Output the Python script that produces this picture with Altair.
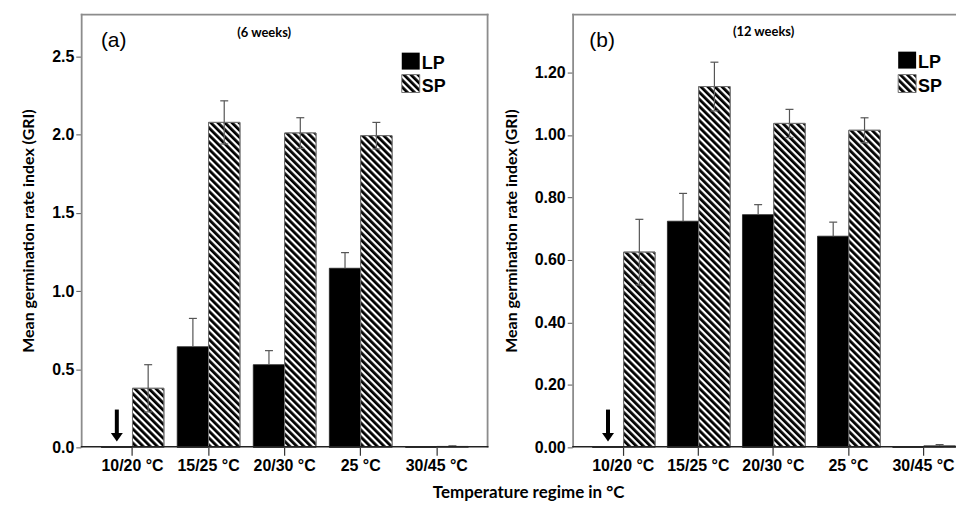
import base64
import altair as alt
import pandas as pd

categories = ["10/20 °C", "15/25 °C", "20/30 °C", "25 °C", "30/45 °C"]
groups = ["LP", "SP"]

# panel (a) 6 weeks
a_lp = [0.0, 0.644, 0.529, 1.146, 0.0]
a_lp_err = [0.0, 0.181, 0.090, 0.100, 0.0]
a_sp = [0.378, 2.079, 2.011, 1.994, 0.006]
a_sp_err = [0.151, 0.138, 0.098, 0.085, 0.004]
a_ticks = [0.0, 0.5, 1.0, 1.5, 2.0, 2.5]

# panel (b) 12 weeks
b_lp = [0.0, 0.724, 0.745, 0.676, 0.0]
b_lp_err = [0.0, 0.089, 0.032, 0.045, 0.0]
b_sp = [0.625, 1.155, 1.037, 1.015, 0.005]
b_sp_err = [0.105, 0.078, 0.045, 0.040, 0.004]
b_ticks = [0.0, 0.2, 0.4, 0.6, 0.8, 1.0, 1.2]

# arrows (no germination of LP at 10/20 °C): top, neck, tip
arrow_cat = "10/20 °C"
a_arrow = [0.242, 0.089, 0.038]
b_arrow = [0.121, 0.045, 0.019]

YTITLE = "Mean germination rate index (GRI)"
XTITLE = "Temperature regime in °C"

HATCH_SVG = (
    "<svg xmlns='http://www.w3.org/2000/svg' width='100%' height='100%'>"
    "<defs><pattern id='h' width='5' height='5' patternUnits='userSpaceOnUse' "
    "patternTransform='rotate(-45)'>"
    "<rect width='5' height='5' fill='white'/>"
    "<rect width='2.8' height='5' fill='black'/>"
    "</pattern></defs>"
    "<rect width='100%' height='100%' fill='url(#h)'/></svg>"
)
HATCH = "data:image/svg+xml;base64," + base64.b64encode(HATCH_SVG.encode()).decode()

H = 435
ONE = pd.DataFrame({"k": [0]})
FRAME = "#8c8c8c"


def panel(lp, lp_err, sp, sp_err, ymax, ticks, fmt, tag, weeks, arrow,
          W, pad_outer, align, right_edge, tag_pos, weeks_pos, leg):
    rows = []
    for c, v, e in zip(categories, lp, lp_err):
        rows.append(dict(cat=c, grp="LP", val=v, err=e))
    for c, v, e in zip(categories, sp, sp_err):
        rows.append(dict(cat=c, grp="SP", val=v, err=e))
    df = pd.DataFrame(rows)
    df["lo"] = df["val"] - df["err"]
    df["hi"] = df["val"] + df["err"]
    df["zero"] = 0.0

    xs = alt.Scale(domain=categories, paddingInner=0.176, paddingOuter=pad_outer, align=align)
    ys = alt.Scale(domain=[0, ymax], nice=False, zero=True)
    X = alt.X("cat:N", scale=xs, sort=categories, title=None,
              axis=alt.Axis(labelAngle=0, labelFont="Liberation Sans",
                            labelFontWeight="bold", labelFontSize=16,
                            labelColor="black", tickColor="#333", tickSize=8,
                            tickWidth=1.2, domain=False, labelPadding=2))
    XO = alt.XOffset("grp:N", sort=groups,
                     scale=alt.Scale(domain=groups, paddingInner=0, paddingOuter=0))
    Y = alt.Y("val:Q", scale=ys, stack=None, title=YTITLE,
              axis=alt.Axis(values=ticks, format=fmt, domain=False, grid=False,
                            tickColor="#555", tickSize=5, labelPadding=2,
                            labelFont="Liberation Sans", labelFontWeight="bold",
                            labelFontSize=16, labelColor="black",
                            titleFont="Lato", titleFontWeight="bold",
                            titleFontSize=16, titleColor="black", titlePadding=15))

    base = alt.Chart(df)
    one = alt.Chart(ONE)
    frame_top = one.mark_rule(color=FRAME, strokeWidth=1.8).encode(
        x=alt.value(0), x2=alt.value(W), y=alt.value(0.9))
    frame_left = one.mark_rule(color=FRAME, strokeWidth=1.8).encode(
        x=alt.value(0.9), y=alt.value(0), y2=alt.value(H))
    frames = [frame_top, frame_left]
    if right_edge:
        frames.append(one.mark_rule(color=FRAME, strokeWidth=1.8).encode(
            x=alt.value(W - 0.9), y=alt.value(0), y2=alt.value(H)))
    bars = base.mark_bar(stroke="#222", strokeWidth=0.8).encode(
        x=X, xOffset=XO, y=Y,
        color=alt.Color("grp:N", scale=alt.Scale(domain=groups, range=["#000000", "#ffffff"]),
                        legend=None))
    sp_only = base.transform_filter("datum.grp == 'SP'")
    hatch = sp_only.mark_image(aspect=False).encode(
        x=X, xOffset=XO, y=alt.Y("val:Q", scale=ys), y2="zero:Q", url=alt.value(HATCH))
    outline = sp_only.mark_bar(fillOpacity=0, stroke="#707070", strokeWidth=1).encode(
        x=X, xOffset=XO, y=alt.Y("val:Q", scale=ys, stack=None))
    errs = base.transform_filter("datum.err > 0")
    sp_errs = base.transform_filter("datum.err > 0 && datum.grp == 'SP'")
    err_up = errs.mark_rule(color="#555", strokeWidth=1.2).encode(
        x=X, xOffset=XO, y=alt.Y("val:Q", scale=ys), y2="hi:Q")
    err_dn = sp_errs.mark_rule(color="#666", strokeWidth=1.2).encode(
        x=X, xOffset=XO, y=alt.Y("lo:Q", scale=ys), y2="val:Q")
    cap_hi = errs.mark_point(shape="stroke", size=64, strokeWidth=1.2, color="#555",
                             opacity=1).encode(x=X, xOffset=XO, y=alt.Y("hi:Q", scale=ys))
    cap_lo = sp_errs.mark_point(shape="stroke", size=64, strokeWidth=1.2, color="#666",
                                opacity=1).encode(x=X, xOffset=XO, y=alt.Y("lo:Q", scale=ys))
    bottom = one.mark_rule(color="#222", strokeWidth=1.5).encode(
        x=alt.value(0), x2=alt.value(W), y=alt.value(H - 0.75))

    adf = pd.DataFrame({"cat": [arrow_cat], "grp": ["LP"], "top": [arrow[0]],
                        "neck": [arrow[1]], "tip": [arrow[2]]})
    ar = alt.Chart(adf)
    shaft = ar.mark_rule(color="black", strokeWidth=4).encode(
        x=X, xOffset=XO, y=alt.Y("top:Q", scale=ys), y2="neck:Q")
    head = ar.mark_point(shape="M-1,-1.4 L1,-1.4 L0,0 Z", size=144, filled=True,
                         color="black", opacity=1, strokeWidth=0).encode(
        x=X, xOffset=XO, y=alt.Y("tip:Q", scale=ys))

    t_tag = one.mark_text(font="Liberation Sans", fontSize=21, color="black").encode(
        x=alt.value(tag_pos[0]), y=alt.value(tag_pos[1]), text=alt.value(tag))
    t_weeks = one.mark_text(font="Lato", fontWeight="bold", fontSize=13,
                            color="black").encode(
        x=alt.value(weeks_pos[0]), y=alt.value(weeks_pos[1]), text=alt.value(weeks))
    lx, ly1, ly2 = leg
    sq_lp = one.mark_rect(color="black").encode(
        x=alt.value(lx), x2=alt.value(lx + 18), y=alt.value(ly1), y2=alt.value(ly1 + 17))
    sq_sp = one.mark_image(aspect=False).encode(
        x=alt.value(lx), x2=alt.value(lx + 18), y=alt.value(ly2), y2=alt.value(ly2 + 18),
        url=alt.value(HATCH))
    sq_sp_o = one.mark_rect(fillOpacity=0, stroke="#707070", strokeWidth=1).encode(
        x=alt.value(lx), x2=alt.value(lx + 18), y=alt.value(ly2), y2=alt.value(ly2 + 18))
    t_lp = one.mark_text(font="Liberation Sans", fontWeight="bold", fontSize=18,
                         align="left", baseline="alphabetic", color="black").encode(
        x=alt.value(lx + 20), y=alt.value(ly1 + 16), text=alt.value("LP"))
    t_sp = one.mark_text(font="Liberation Sans", fontWeight="bold", fontSize=18,
                         align="left", baseline="alphabetic", color="black").encode(
        x=alt.value(lx + 20), y=alt.value(ly2 + 17), text=alt.value("SP"))

    return alt.layer(*frames, bars, hatch, outline, err_dn, cap_lo, err_up, cap_hi, bottom,
                     shaft, head, t_tag, t_weeks, sq_lp, sq_sp, sq_sp_o, t_lp, t_sp
                     ).properties(width=W, height=H)


pa = panel(a_lp, a_lp_err, a_sp, a_sp_err, 2.774, a_ticks, ".1f", "(a)", "(6 weeks)",
           a_arrow, 409, 0.268, 0.5, True, (33, 27), (184, 19), (322, 39, 61))
pb = panel(b_lp, b_lp_err, b_sp, b_sp_err, 1.388, b_ticks, ".2f", "(b)", "(12 weeks)",
           b_arrow, 385, 0.1445, 0.928, False, (30, 27), (192, 18), (327, 38, 61))

chart = alt.hconcat(pa, pb, spacing=13).properties(
    padding={"left": 12, "top": 4, "right": 0, "bottom": 0},
    title=alt.TitleParams(XTITLE, orient="bottom", anchor="middle", font="Lato",
                          fontSize=17, fontWeight="bold", color="black", offset=12, dx=40),
).configure_view(strokeWidth=0)

chart.save("out.html", embed_options={"renderer": "svg", "actions": False})
